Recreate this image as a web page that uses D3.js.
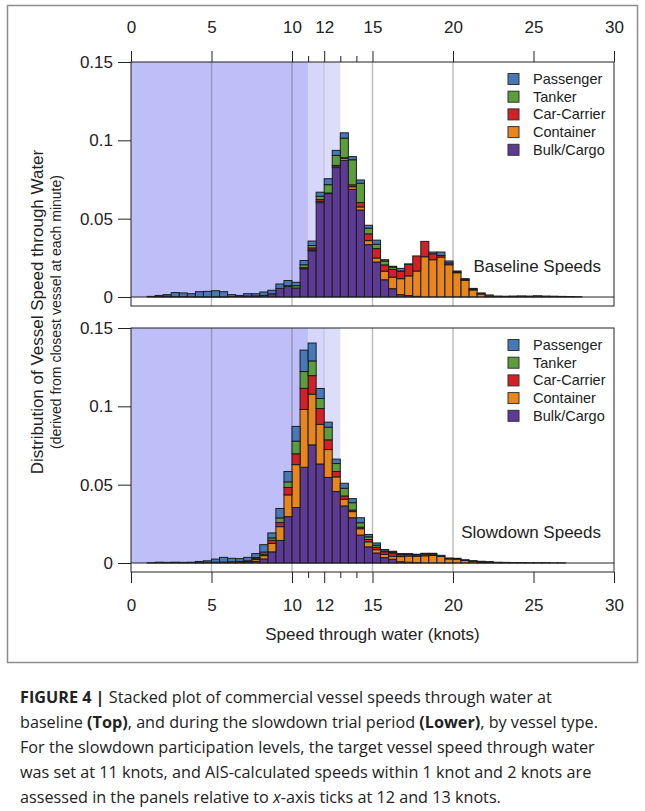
<!DOCTYPE html>
<html>
<head>
<meta charset="utf-8">
<script src="https://cdn.jsdelivr.net/npm/d3@7"></script>
<style>
  html, body { margin: 0; padding: 0; background: #fff; }
  svg { display: block; }
</style>
</head>
<body>
<svg id="chart"></svg>
<script>
// speed bins: left edge of each 0.5 knot bin
const binStarts = d3.range(0, 30, 0.5);
const vesselTypes = ["Bulk/Cargo", "Container", "Car-Carrier", "Tanker", "Passenger"];
const legendOrder = ["Passenger", "Tanker", "Car-Carrier", "Container", "Bulk/Cargo"];
const typeColors = {
  "Passenger": "#4679b8",
  "Tanker": "#5c9e3b",
  "Car-Carrier": "#d12027",
  "Container": "#e8861c",
  "Bulk/Cargo": "#5d3b95"
};
const yTicks = [0, 0.05, 0.1, 0.15];
const xTicks = [0, 5, 10, 12, 15, 20, 25, 30];
const xMinorTicks = [11, 13, 14];
const gridKnots = [5, 10, 15, 20];

// baseline period
const baseBulk = [0,0,0,0.0003,0.0005,0.0002,0.0002,0.0001,0.0001,0.0001,0.0001,0.0001,0.0003,0.0003,0.0006,0.0007,0.001,0.002,0.0055,0.0068,0.0057,0.018,0.0295,0.0602,0.066,0.0826,0.0872,0.0687,0.0555,0.0334,0.0223,0.011,0.0053,0.0015,0.0009,0.0004,0,0,0,0,0,0,0,0,0,0,0,0,0,0,0,0,0,0,0,0,0,0,0,0];
const baseContainer = [0,0,0,0,0,0,0,0,0,0,0,0,0,0,0,0,0,0,0,0,0,0.0003,0.0006,0.0008,0.0002,0.001,0.0013,0.0017,0.002,0.0026,0.0026,0.0055,0.0074,0.0102,0.0126,0.0162,0.0257,0.0238,0.0255,0.0206,0.0155,0.0106,0.0045,0.0019,0.0005,0,0,0,0,0,0,0,0,0,0,0,0,0,0,0];
const baseCarrier = [0,0,0,0,0,0,0,0,0,0,0,0,0,0,0,0,0,0,0,0,0,0.0004,0.0012,0.0012,0.0002,0.0004,0.0004,0.0012,0.0028,0.0043,0.006,0.004,0.0049,0.0047,0.0074,0.0096,0.0098,0.0038,0.001,0.0012,0.0006,0.0006,0.0005,0,0,0,0,0,0,0,0,0,0,0,0,0,0,0,0,0];
const baseTanker = [0,0,0,0,0,0,0,0,0,0,0,0,0,0,0,0,0,0,0,0.0004,0.0015,0.0019,0.0016,0.0021,0.0053,0.0064,0.0125,0.016,0.0123,0.0036,0.0028,0.0025,0.0015,0.0002,0,0,0,0,0,0,0,0,0,0,0,0,0,0,0,0,0,0,0,0,0,0,0,0,0,0];
const basePassenger = [0,0,0.0004,0.0007,0.001,0.0026,0.0024,0.002,0.0033,0.0035,0.0039,0.0033,0.0012,0.0007,0.0015,0.0014,0.0022,0.0023,0.0028,0.0033,0.0022,0.0027,0.0028,0.0026,0.0038,0.0032,0.0034,0.002,0.0021,0.0019,0.0026,0.0008,0.0005,0.0017,0.0002,0,0,0.0011,0.0022,0.0012,0.0005,0.0005,0.0005,0.0007,0.0008,0.0006,0.0005,0.0006,0.0007,0.0006,0.0008,0.0006,0.0005,0.0004,0.0003,0.0002,0,0,0,0];

// slowdown trial period
const slowBulk = [0,0,0,0,0,0,0,0,0.0002,0.0004,0.0005,0.0006,0.0004,0.0006,0.0006,0.001,0.0026,0.0071,0.0144,0.0296,0.0354,0.0611,0.0754,0.0632,0.0546,0.0456,0.0364,0.0289,0.0178,0.0103,0.0064,0.0034,0.0024,0.0008,0.0005,0.0002,0,0,0,0,0,0,0,0,0,0,0,0,0,0,0,0,0,0,0,0,0,0,0,0];
const slowContainer = [0,0,0,0,0,0,0,0,0,0,0,0,0.0004,0.0004,0.0004,0.0012,0.0021,0.0054,0.0088,0.0139,0.0274,0.0369,0.0324,0.0253,0.0178,0.0094,0.0043,0.0039,0.0041,0.0032,0.0021,0.0021,0.0019,0.0033,0.004,0.0042,0.0046,0.0048,0.0042,0.0026,0.0024,0.0016,0.001,0.0006,0.0003,0,0,0,0,0,0,0,0,0,0,0,0,0,0,0];
const slowCarrier = [0,0,0,0,0,0,0,0,0,0,0,0,0,0,0.0004,0.0008,0.001,0.002,0.0026,0.0047,0.0069,0.0135,0.0118,0.0101,0.0062,0.0034,0.0021,0.001,0.001,0.0015,0.0015,0.0017,0.0021,0.0012,0.001,0.0008,0.001,0.0008,0,0,0,0,0,0,0,0,0,0,0,0,0,0,0,0,0,0,0,0,0,0];
const slowTanker = [0,0,0,0,0,0,0,0,0,0,0,0,0,0,0,0.0005,0.0013,0.0015,0.003,0.0036,0.0081,0.0107,0.0094,0.0064,0.0081,0.0051,0.0049,0.0047,0.0028,0.0017,0.0013,0.0004,0.0004,0.0003,0,0,0,0,0,0,0,0,0,0,0,0,0,0,0,0,0,0,0,0,0,0,0,0,0,0];
const slowPassenger = [0,0,0.0002,0.0005,0.0004,0.0005,0.0004,0.0005,0.0008,0.001,0.002,0.003,0.0022,0.0018,0.0022,0.0025,0.0047,0.0032,0.006,0.0066,0.0094,0.0137,0.0114,0.0064,0.0032,0.0028,0.0032,0.0026,0.0032,0.0015,0.0015,0.001,0.0007,0.0004,0.0005,0.0004,0.0006,0.0006,0.0007,0.0006,0.0006,0.0005,0.0005,0.0005,0.0006,0.0005,0.0004,0.0003,0.0003,0.0002,0.0002,0.0002,0.0001,0.0001,0,0,0,0,0,0];

const width = 645;
const height = 811;

const svg = d3.select("#chart").attr("width", width).attr("height", height);

const x = d3.scaleLinear().domain([0, 30]).range([131, 614]);
const font = "'Liberation Sans', Arial, sans-serif";

const buildRows = (bulk, container, carrier, tanker, passenger) =>
  binStarts.map((b, i) => ({
    bin: b,
    "Bulk/Cargo": bulk[i],
    "Container": container[i],
    "Car-Carrier": carrier[i],
    "Tanker": tanker[i],
    "Passenger": passenger[i]
  }));

const panels = [
  { label: "Baseline Speeds", top: 62, zero: 297, bottom: 306, axisTop: true,
    rows: buildRows(baseBulk, baseContainer, baseCarrier, baseTanker, basePassenger) },
  { label: "Slowdown Speeds", top: 328, zero: 563, bottom: 572, axisTop: false,
    rows: buildRows(slowBulk, slowContainer, slowCarrier, slowTanker, slowPassenger) }
];

// outer figure border
svg.append("rect")
  .attr("x", 7.5).attr("y", 5.5)
  .attr("width", 630).attr("height", 657)
  .attr("fill", "none")
  .attr("stroke", "#8c8c8c")
  .attr("stroke-width", 1.5);

const stack = d3.stack().keys(vesselTypes);

panels.forEach((p) => {
  const y = d3.scaleLinear().domain([0, 0.15]).range([p.zero, p.zero - 235]);
  const g = svg.append("g");

  // target speed shading
  g.append("rect")
    .attr("x", x(0)).attr("y", p.top)
    .attr("width", x(11) - x(0)).attr("height", p.zero - p.top)
    .attr("fill", "#bebef9");
  g.append("rect")
    .attr("x", x(11)).attr("y", p.top)
    .attr("width", x(12) - x(11)).attr("height", p.zero - p.top)
    .attr("fill", "#d6d6fa");
  g.append("rect")
    .attr("x", x(12)).attr("y", p.top)
    .attr("width", x(13) - x(12)).attr("height", p.zero - p.top)
    .attr("fill", "#dcdcfb");

  // vertical reference lines
  g.selectAll(".grid")
    .data(gridKnots)
    .enter()
    .append("line")
    .attr("x1", (d) => x(d)).attr("x2", (d) => x(d))
    .attr("y1", p.top).attr("y2", p.bottom)
    .attr("stroke", "#646464")
    .attr("stroke-opacity", 0.42)
    .attr("stroke-width", 1.5);
  g.append("line")
    .attr("x1", x(12)).attr("x2", x(12))
    .attr("y1", p.top).attr("y2", p.zero)
    .attr("stroke", "#8080c0")
    .attr("stroke-opacity", 0.25)
    .attr("stroke-width", 1.5);

  // stacked bars
  const series = stack(p.rows);
  series.forEach((s) => {
    g.append("g")
      .selectAll("rect")
      .data(s.filter((d) => d[1] - d[0] > 0))
      .enter()
      .append("rect")
      .attr("x", (d) => x(d.data.bin))
      .attr("width", x(0.5) - x(0))
      .attr("y", (d) => y(d[1]))
      .attr("height", (d) => y(d[0]) - y(d[1]))
      .attr("fill", typeColors[s.key])
      .attr("stroke", "#1c1c1c")
      .attr("stroke-width", 1);
  });

  // zero line
  g.append("line")
    .attr("x1", x(0)).attr("x2", x(30))
    .attr("y1", p.zero).attr("y2", p.zero)
    .attr("stroke", "#222")
    .attr("stroke-width", 1);

  // frame
  g.append("rect")
    .attr("x", x(0)).attr("y", p.top)
    .attr("width", x(30) - x(0)).attr("height", p.bottom - p.top)
    .attr("fill", "none")
    .attr("stroke", "#222")
    .attr("stroke-width", 1);

  // y axis
  const yAxis = g.append("g")
    .attr("transform", `translate(${x(0)},0)`)
    .call(d3.axisLeft(y).tickValues(yTicks).tickSize(13).tickPadding(5)
      .tickFormat((d) => (d === 0 ? "0" : String(d))));
  yAxis.select(".domain").remove();
  yAxis.selectAll("text").attr("font-size", 17).attr("font-family", font).attr("fill", "#222");
  yAxis.selectAll("line").attr("stroke", "#222");

  // top x axis on the first panel, bottom x axis on the second
  if (p.axisTop) {
    const tAxis = g.append("g")
      .attr("transform", `translate(0,${p.top})`)
      .call(d3.axisTop(x).tickValues(xTicks).tickSize(11).tickSizeOuter(0).tickPadding(18)
        .tickFormat(d3.format("d")));
    tAxis.select(".domain").remove();
    tAxis.selectAll("text").attr("font-size", 17).attr("font-family", font).attr("fill", "#222");
    tAxis.selectAll("line").attr("stroke", "#222");
    const tMinor = g.append("g")
      .attr("transform", `translate(0,${p.top})`)
      .call(d3.axisTop(x).tickValues(xMinorTicks).tickSize(6).tickFormat(""));
    tMinor.select(".domain").remove();
    tMinor.selectAll("line").attr("stroke", "#222");
  } else {
    const bAxis = g.append("g")
      .attr("transform", `translate(0,${p.bottom})`)
      .call(d3.axisBottom(x).tickValues(xTicks).tickSize(11).tickSizeOuter(0).tickPadding(16)
        .tickFormat(d3.format("d")));
    bAxis.select(".domain").remove();
    bAxis.selectAll("text").attr("font-size", 17).attr("font-family", font).attr("fill", "#222");
    bAxis.selectAll("line").attr("stroke", "#222");
    const bMinor = g.append("g")
      .attr("transform", `translate(0,${p.bottom})`)
      .call(d3.axisBottom(x).tickValues(xMinorTicks).tickSize(6).tickFormat(""));
    bMinor.select(".domain").remove();
    bMinor.selectAll("line").attr("stroke", "#222");
  }

  // legend
  const legendTop = p.top + 17;
  legendOrder.forEach((k, i) => {
    const cy = legendTop + i * 17.7;
    g.append("rect")
      .attr("x", 508).attr("y", cy - 5.5)
      .attr("width", 11).attr("height", 11)
      .attr("fill", typeColors[k])
      .attr("stroke", "#333")
      .attr("stroke-width", 1);
    g.append("text")
      .attr("x", 533).attr("y", cy)
      .attr("dy", "0.35em")
      .attr("font-size", 14.5)
      .attr("font-family", font)
      .attr("fill", "#222")
      .text(k);
  });

  // panel label
  g.append("text")
    .attr("x", 601).attr("y", p.zero - 31)
    .attr("dy", "0.35em")
    .attr("text-anchor", "end")
    .attr("font-size", 17)
    .attr("font-family", font)
    .attr("fill", "#222")
    .text(p.label);
});

// axis titles
svg.append("text")
  .attr("x", x(15)).attr("y", 640)
  .attr("text-anchor", "middle")
  .attr("font-size", 17)
  .attr("font-family", font)
  .attr("fill", "#222")
  .text("Speed through water (knots)");

svg.append("text")
  .attr("transform", "translate(43,312) rotate(-90)")
  .attr("text-anchor", "middle")
  .attr("font-size", 17)
  .attr("font-family", font)
  .attr("fill", "#222")
  .text("Distribution of Vessel Speed through Water");

svg.append("text")
  .attr("transform", "translate(61,312) rotate(-90)")
  .attr("text-anchor", "middle")
  .attr("font-size", 14)
  .attr("font-family", font)
  .attr("fill", "#222")
  .text("(derived from closest vessel at each minute)");

// caption
const captionFont = "'Open Sans', 'Noto Sans', sans-serif";
const caption = svg.append("text")
  .attr("font-size", 16.2)
  .attr("font-family", captionFont)
  .attr("fill", "#222");

const captionLines = [
  [["FIGURE 4 | ", "bold"], ["Stacked plot of commercial vessel speeds through water at", ""]],
  [["baseline ", ""], ["(Top)", "bold"], [", and during the slowdown trial period ", ""], ["(Lower)", "bold"], [", by vessel type.", ""]],
  [["For the slowdown participation levels, the target vessel speed through water", ""]],
  [["was set at 11 knots, and AIS-calculated speeds within 1 knot and 2 knots are", ""]],
  [["assessed in the panels relative to ", ""], ["x", "italic"], ["-axis ticks at 12 and 13 knots.", ""]]
];

captionLines.forEach((parts, li) => {
  parts.forEach((part, pi) => {
    const t = caption.append("tspan").text(part[0]);
    if (pi === 0) t.attr("x", 20).attr("y", 703 + li * 25);
    if (part[1] === "bold") t.attr("font-weight", "bold");
    if (part[1] === "italic") t.attr("font-style", "italic");
  });
});
</script>
</body>
</html>
